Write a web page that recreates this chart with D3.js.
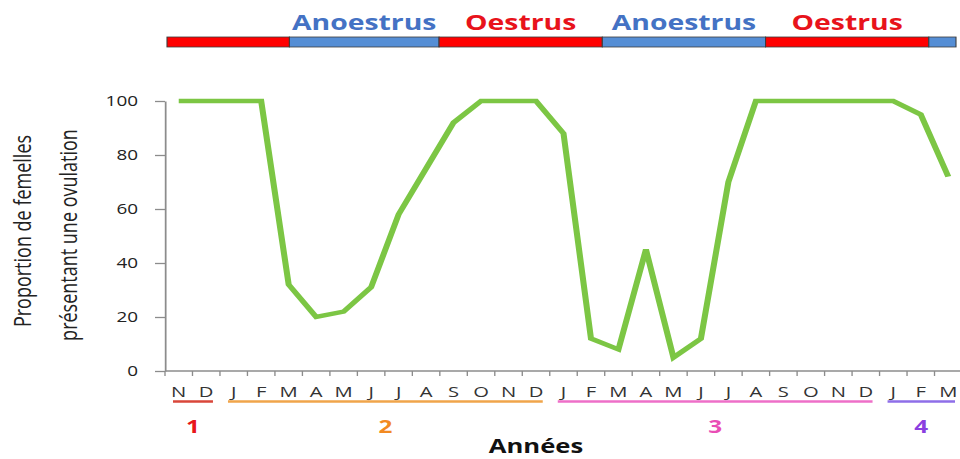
<!DOCTYPE html>
<html lang="fr">
<head>
<meta charset="utf-8">
<title>Proportion de femelles présentant une ovulation</title>
<script src="https://d3js.org/d3.v7.min.js"></script>
<style>
  body { margin: 0; background: #fff; }
  svg { display: block; }
  text { font-family: "Open Sans", "Liberation Sans", sans-serif; }
</style>
</head>
<body>
<div id="chart"></div>
<script>
// data
var months = ["N","D","J","F","M","A","M","J","J","A","S","O","N","D",
              "J","F","M","A","M","J","J","A","S","O","N","D","J","F","M"];
var ovulation = [100,100,100,100,32,20,22,31,58,75,92,100,100,100,
                 88,12,8,45,5,12,70,100,100,100,100,100,100,95,72];
var yTicks = [0,20,40,60,80,100];

var years      = ["1","2","3","4"];
var yearFirst  = [0,2,14,26];
var yearLast   = [1,13,25,28];

var seasonNames = ["Oestrus","Anoestrus","Oestrus","Anoestrus","Oestrus","Anoestrus"];
var seasonStart = [0,4.5,10,16,22,28];
var seasonEnd   = [4.5,10,16,22,28,29];
var seasonShown = [false,true,true,true,true,false];

// colours
var green = "#7cc644";
var seasonColor = {Oestrus: "#ff0000", Anoestrus: "#558ed5"};
var seasonText  = {Oestrus: "#e8131b", Anoestrus: "#4472c4"};
var yearLine = ["#d9463a","#f0a54a","#ee6fc8","#8e6ee8"];
var yearText = ["#e8171b","#f28a22","#e94db5","#8a3fe0"];

// the picture is stretched sideways, so draw in a narrower space and scale it
var SX = 1.35;
function vx(x) { return x / SX; }

var svg = d3.select("#chart").append("svg")
    .attr("width", 960).attr("height", 459);
var g = svg.append("g").attr("transform", "scale(" + SX + ",1)");

var x = d3.scaleBand().domain(d3.range(months.length)).range([vx(165), vx(962)]);
var xi = d3.scaleLinear().domain([0, months.length]).range([vx(165), vx(962)]);
var y = d3.scaleLinear().domain([0, 100]).range([371, 101]);

// y axis
var yAxis = g.append("g")
    .attr("transform", "translate(" + vx(165) + ",0)")
    .call(d3.axisLeft(y).tickValues(yTicks).tickSize(vx(10)).tickSizeOuter(0).tickPadding(vx(17)));
yAxis.select(".domain").attr("stroke", "#8c8c8c").attr("stroke-width", 1.3);
yAxis.selectAll(".tick line").attr("stroke", "#8c8c8c").attr("stroke-width", 1.3);
yAxis.selectAll("text").attr("font-size", 14).attr("fill", "#222")
    .attr("font-family", "'Open Sans', sans-serif");

// x axis: line, ticks between months
g.append("line")
    .attr("x1", xi(0)).attr("x2", xi(months.length))
    .attr("y1", y(0)).attr("y2", y(0))
    .attr("stroke", "#8c8c8c").attr("stroke-width", 1.5);
g.append("g").selectAll("line")
  .data(d3.range(months.length + 1))
  .enter().append("line")
    .attr("x1", function(d) { return xi(d); })
    .attr("x2", function(d) { return xi(d); })
    .attr("y1", y(0)).attr("y2", y(0) + 5)
    .attr("stroke", "#8c8c8c").attr("stroke-width", 1);

g.append("g").selectAll("text")
  .data(months)
  .enter().append("text")
    .attr("x", function(d, i) { return x(i) + x.bandwidth() / 2; })
    .attr("y", 397)
    .attr("text-anchor", "middle")
    .attr("font-size", 15)
    .attr("fill", "#333")
    .text(function(d) { return d; });

// years under the months
var yearG = g.append("g");
years.forEach(function(label, k) {
  var x1 = xi(yearFirst[k]) + vx(8);
  var x2 = xi(yearLast[k] + 1) - vx(7);
  yearG.append("line")
      .attr("x1", x1).attr("x2", x2)
      .attr("y1", 401.5).attr("y2", 401.5)
      .attr("stroke", yearLine[k]).attr("stroke-width", 2.5);
  yearG.append("text")
      .attr("x", (x1 + x2) / 2).attr("y", 433)
      .attr("text-anchor", "middle")
      .attr("font-size", 18).attr("font-weight", "bold")
      .attr("fill", yearText[k])
      .text(label);
});

g.append("text")
    .attr("x", vx(536)).attr("y", 453)
    .attr("text-anchor", "middle")
    .attr("font-size", 19).attr("font-weight", "bold")
    .attr("fill", "#111")
    .text("Années");

// y axis title
var titleLines = ["Proportion de femelles", "présentant une ovulation"];
var titleX = [31, 77], titleY = [231, 235];
titleLines.forEach(function(t, k) {
  g.append("text")
      .attr("transform", "translate(" + vx(titleX[k]) + "," + titleY[k] + ") rotate(-90)")
      .attr("text-anchor", "middle")
      .attr("font-size", 18)
      .attr("fill", "#222")
      .text(t);
});

// season bar on top
var xs = d3.scaleLinear().domain([0, months.length]).range([vx(167), vx(956)]);
var seasonG = g.append("g");
seasonG.selectAll("rect")
  .data(d3.range(seasonNames.length))
  .enter().append("rect")
    .attr("x", function(i) { return xs(seasonStart[i]); })
    .attr("width", function(i) { return xs(seasonEnd[i]) - xs(seasonStart[i]); })
    .attr("y", 37).attr("height", 10)
    .attr("fill", function(i) { return seasonColor[seasonNames[i]]; })
    .attr("stroke", "#3c3c3c").attr("stroke-width", 0.8);
seasonG.selectAll("text")
  .data(d3.range(seasonNames.length).filter(function(i) { return seasonShown[i]; }))
  .enter().append("text")
    .attr("x", function(i) { return xs((seasonStart[i] + seasonEnd[i]) / 2); })
    .attr("y", 30)
    .attr("text-anchor", "middle")
    .attr("font-size", 21).attr("font-weight", "bold")
    .attr("fill", function(i) { return seasonText[seasonNames[i]]; })
    .text(function(i) { return seasonNames[i]; });

// the line
var line = d3.line()
    .x(function(d, i) { return x(i) + x.bandwidth() / 2; })
    .y(function(d) { return y(d); });
g.append("path")
    .datum(ovulation)
    .attr("d", line)
    .attr("fill", "none")
    .attr("stroke", green)
    .attr("stroke-width", 4.5);
</script>
</body>
</html>
